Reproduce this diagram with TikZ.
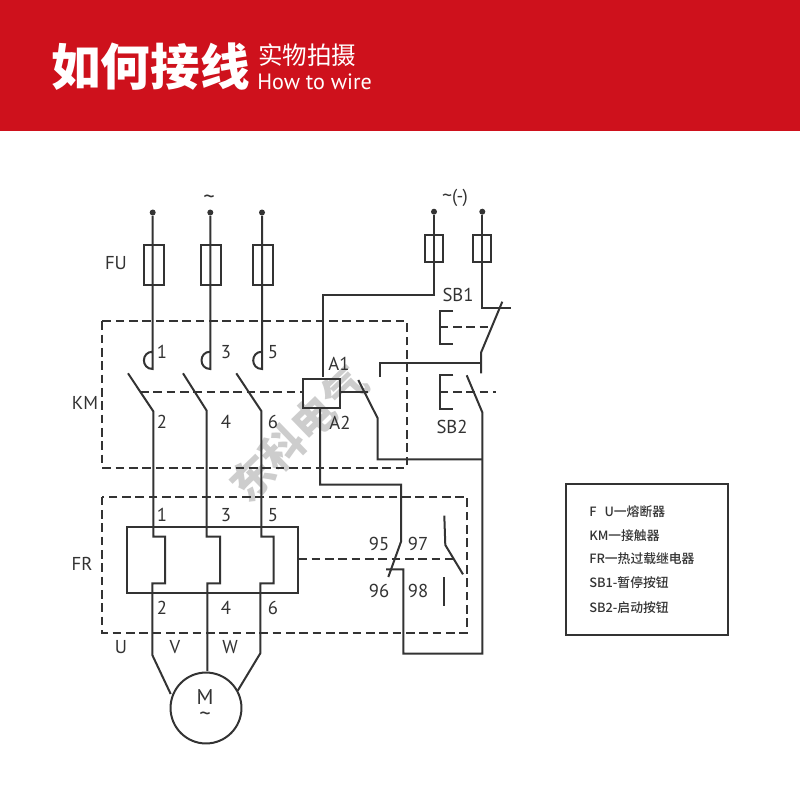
\documentclass[tikz,border=0pt]{standalone}
\usepackage{fontspec}
\setmainfont{PT Sans}
\newfontfamily\cjk{Noto Sans CJK SC}
\newfontfamily\cjkm{Noto Sans CJK SC Medium}
\newfontfamily\cjkb{Noto Sans CJK SC Black}
\definecolor{hdr}{HTML}{CE111C}
\definecolor{ink}{HTML}{333333}
\definecolor{wm}{HTML}{CDCDCD}
\newcommand{\fsz}[1]{\fontsize{#1}{#1}\selectfont}
\tikzset{
  x=0.75pt,y=-0.75pt,
  wire/.style={draw=ink,line width=1.5pt,line join=miter},
  dashline/.style={draw=ink,line width=1.3pt,dash pattern=on 6.5pt off 3.5pt},
  lab/.style={text=ink,inner sep=0pt,font=\fsz{14}},
  leg/.style={text=ink,inner sep=0pt,anchor=west,font=\cjkm\fsz{9.6}},
  term/.style={circle,fill=ink,inner sep=0pt,minimum size=4.5pt},
  fusebox/.style={draw=ink,line width=1.5pt,inner sep=0pt},
}
\begin{document}
\begin{tikzpicture}
\useasboundingbox (0,0) rectangle (800,800);
\fill[white] (0,0) rectangle (800,800);
\fill[hdr] (0,0) rectangle (800,131);
% title
\node[text=white,inner sep=0pt,anchor=west,font=\cjkb\fsz{37.2}] (title) at (51,67) {如何接线};
\node[text=white,inner sep=0pt,anchor=west,font=\cjk\fsz{18.4}] (subzh) at (258,55) {实物拍摄};
\node[text=white,inner sep=0pt,anchor=west,font=\fsz{16.6}] (suben) at (257,82) {How to wire};
% watermark
\node[text=wm,rotate=44,inner sep=0pt,font=\cjkb\fsz{32}] (wmk) at (298,433) {东科电气};
% fuses and terminals
\foreach \n/\x in {a/152.7,b/210.3,c/262}{
  \node[term] (t\n) at (\x,212.5) {};
}
\coordinate (ea) at (152.7,369);
\coordinate (eb) at (210.3,369);
\coordinate (ec) at (262,369);
\draw[wire] (ta) -- (ea) .. controls (141,369) and (141,351.7) .. (152.7,351.7);
\draw[wire] (tb) -- (eb) .. controls (198.6,369) and (198.6,351.7) .. (210.3,351.7);
\draw[wire] (tc) -- (ec) .. controls (250.3,369) and (250.3,351.7) .. (262,351.7);
\draw[fusebox] (143.7,245) rectangle (163.7,284.7);
\draw[fusebox] (201.3,245) rectangle (221.3,284.7);
\draw[fusebox] (253,245) rectangle (273,284.7);
% dashed boxes
\draw[dashline] (102,321.3) rectangle (406.7,467.7);
\draw[dashline] (102,496.7) rectangle (467,632.7);
% main contacts and overloads
\draw[wire] (128,373.3) -- (153.3,411.3) -- (153.3,536.7) -- (165,536.7) -- (165,583.3) -- (152.3,583.3) -- (152.3,655) -- (170.7,694);
\draw[wire] (183,373.3) -- (206.7,410.7) -- (206.7,536.7) -- (220,536.7) -- (220,583.3) -- (207.3,583.3) -- (207.3,671);
\draw[wire] (236.3,373.3) -- (261.3,411) -- (261.3,536.7) -- (273.7,536.7) -- (273.7,583.3) -- (260.3,583.3) -- (260.3,653.3) -- (237.7,690.7);
\draw[dashline] (140,392) -- (303,392);
% coil
\node[draw=ink,line width=1.5pt,inner sep=0pt,minimum width=27.5pt,minimum height=21.8pt] (coil) at (321.4,393.5) {};
% control
\node[term] (tl) at (434,211.7) {};
\node[term] (tr) at (482.3,211.7) {};
\draw[wire] (tl) -- (434,295) -- (323.3,295) -- (323.3,377);
\draw[fusebox] (425,235) rectangle (443,262.3);
\draw[fusebox] (473,235) rectangle (491,262.3);
\draw[wire] (tr) -- (482.3,307.7) -- (510.7,307.7);
\draw[wire] (502.3,301.7) -- (481,352.7) -- (481,373.3);
\draw[wire] (379.7,376.7) -- (379.7,363) -- (481,363);
\draw[wire] (453,311.3) -- (439.7,311.3) -- (439.7,343.7) -- (453,343.7);
\draw[dashline] (439.7,327) -- (490,327);
\draw[wire] (453.3,375.3) -- (439.7,375.3) -- (439.7,408.7) -- (453.3,408.7);
\draw[dashline] (439.7,392) -- (496,392);
\draw[wire] (339.7,392) -- (367.7,392);
\draw[wire] (358.3,380) -- (377.7,418.3) -- (377.7,459.3) -- (482.3,459.3);
\draw[wire] (466.7,375.3) -- (482.3,412.3) -- (482.3,653.7) -- (403.3,653.7) -- (403.3,569.3) -- (386,569.3);
\draw[wire] (320,408) -- (320,484.7) -- (401,484.7) -- (401,541.7) -- (388.3,577);
\draw[wire] (444.3,515.7) -- (445.3,545) -- (463,574.3);
\draw[wire] (444.3,577) -- (444.3,606.3);
\draw[dashline] (298.3,559) -- (453,559);
% FR rect
\draw[wire] (127,527) rectangle (298.3,593.3);
% motor
\node[draw=ink,line width=1.5pt,circle,inner sep=0pt,minimum size=53.2pt] (motor) at (206,708) {};
\node[lab] (mm) at (205,697) {\fsz{16}M};
\node[lab] (mt) at (205,717) {\fsz{17}\char"007E};
% labels
\node[lab] (l1) at (116,263) {FU};
\node[lab] (l2) at (85,403) {KM};
\node[lab] (l3) at (82,564) {FR};
\node[lab] (l4) at (209,200) {\fsz{17}\char"007E};
\node[lab] (l5) at (455,198) {\fsz{15}\char"007E\fsz{14}(-)};
\node[lab] (l6) at (458,295) {SB1};
\node[lab] (l7) at (452,427) {SB2};
\node[lab] (l8) at (339,364) {A1};
\node[lab] (l9) at (340,423) {A2};
\foreach \n/\x/\y/\s in {a/162/352/1,b/226/352/3,c/273/352/5,d/162/422/2,e/226/422/4,f/273/422/6,
  g/162/515/1,h/226/515/3,i/273/515/5,j/162/608/2,k/226/608/4,m/273/608/6,
  n/379/544/95,o/418/544/97,p/379/591/96,q/418/591/98}{
  \node[lab] (n\n) at (\x,\y) {\s};
}
\node[lab] (u) at (121,647) {U};
\node[lab] (v) at (175,647) {V};
\node[lab] (w) at (230,647) {W};
% legend
\draw[draw=ink,line width=1.5pt] (565.7,484) rectangle (728.3,635);
\node[leg] (g1) at (589,512) {F\hspace{6pt}U一熔断器};
\node[leg] (g2) at (589,536) {KM一接触器};
\node[leg] (g3) at (589,559) {FR一热过载继电器};
\node[leg] (g4) at (589,583) {SB1-暂停按钮};
\node[leg] (g5) at (589,608) {SB2-启动按钮};
\end{tikzpicture}
\end{document}
